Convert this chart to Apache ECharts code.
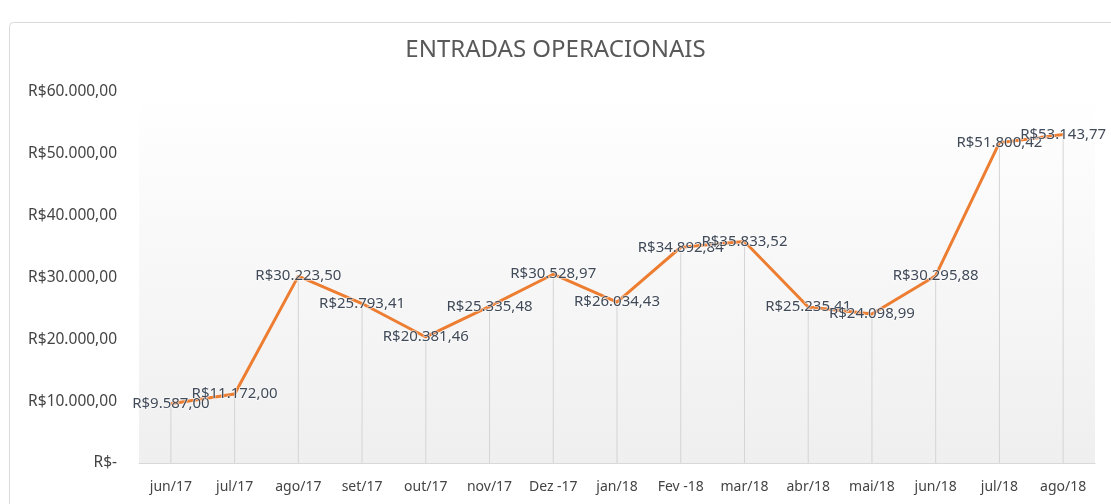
<!DOCTYPE html>
<html><head><meta charset="utf-8">
<script src="https://cdn.jsdelivr.net/npm/echarts@6/dist/echarts.min.js"></script>
<style>html,body{margin:0;padding:0;background:#fff}#c{width:1111px;height:504px}</style>
</head><body><div id="c"></div>
<script>
const categories = ['jun/17','jul/17','ago/17','set/17','out/17','nov/17','Dez -17','jan/18','Fev -18','mar/18','abr/18','mai/18','jun/18','jul/18','ago/18'];
const entradas = [9587.00, 11172.00, 30223.50, 25793.41, 20381.46, 25335.48, 30528.97, 26034.43, 34892.84, 35833.52, 25235.41, 24098.99, 30295.88, 51800.42, 53143.77];
const yTicks = [0, 10000, 20000, 30000, 40000, 50000, 60000];

function brl(v){
  if (v === 0) return 'R$-';
  const parts = v.toFixed(2).split('.');
  const intPart = parts[0].replace(/\B(?=(\d{3})+(?!\d))/g, '.');
  return 'R$' + intPart + ',' + parts[1];
}
const FONT = '"Noto Sans", sans-serif';
const chart = echarts.init(document.getElementById('c'));
chart.setOption({
  animation: false,
  backgroundColor: '#fff',
  title: {
    text: 'ENTRADAS OPERACIONAIS', left: 'center', top: 33,
    textStyle: {fontFamily: FONT, fontSize: 24, fontWeight: 'normal', color: '#595959'}
  },
  graphic: [{
    type: 'rect', silent: true, z: -1,
    shape: {x: 9.5, y: 22.5, width: 1120, height: 500, r: 4},
    style: {fill: 'none', stroke: '#d9d9d9', lineWidth: 1}
  }],
  grid: {
    left: 139, right: 16, top: 92, bottom: 41,
    show: true, borderWidth: 0,
    backgroundColor: new echarts.graphic.LinearGradient(0, 0, 0, 1, [
      {offset: 0, color: '#ffffff'}, {offset: 1, color: '#efefef'}
    ])
  },
  xAxis: {
    type: 'category', data: categories, boundaryGap: true,
    axisLine: {lineStyle: {color: '#d9d9d9', width: 1}},
    axisTick: {show: false},
    axisLabel: {fontFamily: FONT, fontSize: 14, color: '#444', margin: 17, interval: 0}
  },
  yAxis: {
    type: 'value', min: yTicks[0], max: yTicks[yTicks.length-1], interval: yTicks[1]-yTicks[0],
    splitLine: {show: false}, axisLine: {show: false}, axisTick: {show: false},
    axisLabel: {fontFamily: FONT, fontSize: 15.5, color: '#444', margin: 22, formatter: v => brl(v)}
  },
  series: [
    {
      type: 'bar', data: entradas, barWidth: 1, silent: true, z: 1,
      itemStyle: {color: '#d4d4d4'}
    },
    {
      type: 'line', data: entradas, symbol: 'circle', symbolSize: 1, showSymbol: true, z: 3,
      itemStyle: {color: 'rgba(0,0,0,0)'},
      lineStyle: {color: '#ed7d31', width: 3},
      label: {
        show: true, position: 'inside', formatter: p => brl(p.value),
        fontFamily: FONT, fontSize: 15, color: '#404a58',
        textBorderColor: 'rgba(255,255,255,0.6)', textBorderWidth: 1.5
      }
    }
  ]
});
</script></body></html>
